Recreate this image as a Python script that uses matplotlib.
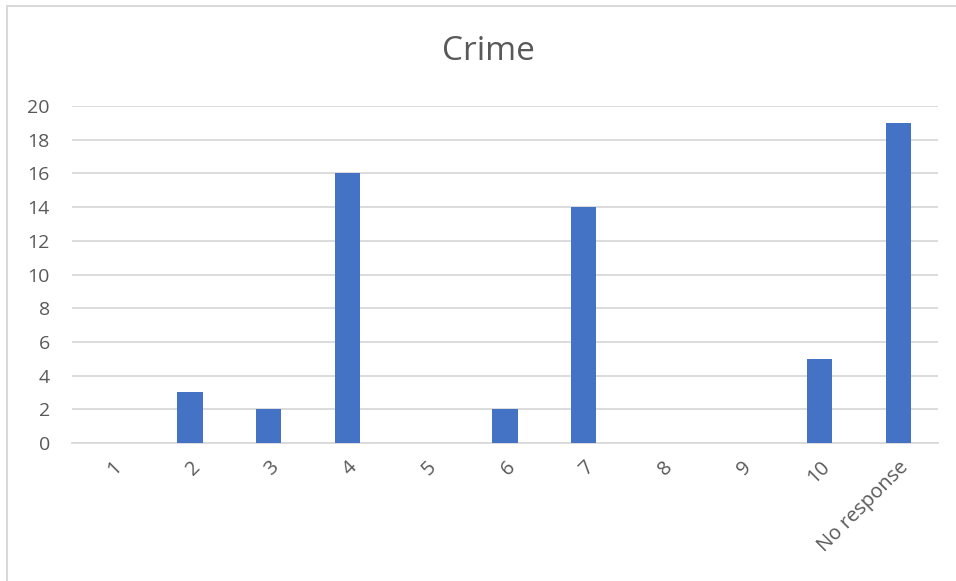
import matplotlib.pyplot as plt
import matplotlib
from matplotlib.patches import Rectangle

matplotlib.use('Agg')
plt.rcParams['font.family'] = ['Open Sans', 'DejaVu Sans']

categories = ["1", "2", "3", "4", "5", "6", "7", "8", "9", "10", "No response"]
counts = [0, 3, 2, 16, 0, 2, 14, 0, 0, 5, 19]
yticks = [0, 2, 4, 6, 8, 10, 12, 14, 16, 18, 20]

text_color = "#595959"
grid_color = "#D9D9D9"

fig = plt.figure(figsize=(9.56, 5.81), dpi=100)
ax = fig.add_axes([0.0753, 0.2375, 0.9057, 0.580])

x = list(range(len(categories)))
ax.bar(x, counts, width=0.32, color="#4472C4", zorder=3)

ax.set_xlim(-0.5, len(categories) - 0.5)
ax.set_ylim(0, 20)
ax.set_yticks(yticks)
ax.set_yticklabels([str(v) for v in yticks], fontsize=14, color=text_color)
ax.set_xticks(x)
ax.set_xticklabels(categories, fontsize=14.5, color=text_color, rotation=45,
                   ha="right", rotation_mode="anchor")
ax.tick_params(axis="both", length=0)
ax.tick_params(axis="y", pad=16)
ax.tick_params(axis="x", pad=10)
ax.grid(axis="y", color=grid_color, linewidth=1.3, zorder=0)
for s in ["top", "right", "left"]:
    ax.spines[s].set_visible(False)
ax.spines["bottom"].set_color(grid_color)
ax.spines["bottom"].set_linewidth(1.3)

fig.text(488 / 956, 1 - 52 / 581, "Crime", fontsize=24, color=text_color,
         ha="center", va="center")

# chart frame (only top and left edges show in the crop)
fig.add_artist(Rectangle((7 / 956, -0.05), 1.1, 1 - 6 / 581 + 0.05,
                         transform=fig.transFigure, fill=False,
                         edgecolor="#D9D9D9", linewidth=1.5))

fig.savefig("out.png", dpi=100)
